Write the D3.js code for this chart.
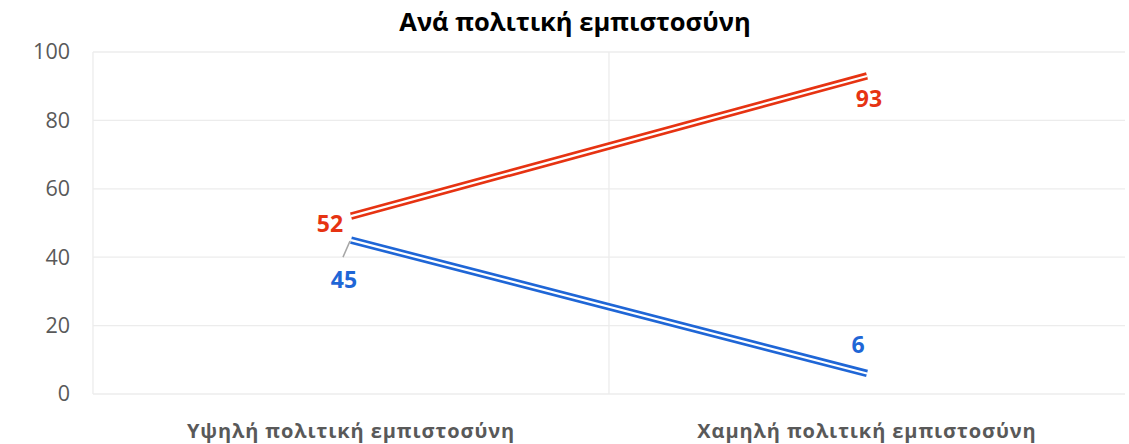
<!DOCTYPE html>
<html><head><meta charset="utf-8">
<script src="https://cdn.jsdelivr.net/npm/d3@7"></script>
<style>body{margin:0;background:#fff}svg{display:block}</style>
</head><body><svg id="c" width="1129" height="444"></svg>
<script>
const categories = ["Υψηλή πολιτική εμπιστοσύνη", "Χαμηλή πολιτική εμπιστοσύνη"];
const seriesRed = [52, 93];
const seriesBlue = [45, 6];
const yTicks = [0, 20, 40, 60, 80, 100];
const title = "Ανά πολιτική εμπιστοσύνη";

const svg = d3.select("#c");
const font = "'Open Sans', 'Noto Sans', sans-serif";
const m = {l: 93, r: 1125, t: 52, b: 394};
const x = d3.scaleBand().domain(categories).range([m.l, m.r]);
const y = d3.scaleLinear().domain([0, 100]).range([m.b, m.t]);
const cx = d => x(d) + x.bandwidth() / 2;

// grid
svg.append("g").selectAll("line").data(yTicks).join("line")
  .attr("x1", m.l).attr("x2", m.r).attr("y1", d => y(d)).attr("y2", d => y(d))
  .attr("stroke", "#ececec").attr("stroke-width", 1.3);
svg.append("g").selectAll("line").data([m.l, x(categories[1])]).join("line")
  .attr("x1", d => d).attr("x2", d => d).attr("y1", m.t).attr("y2", m.b)
  .attr("stroke", "#ececec").attr("stroke-width", 1.3);

// y axis labels
const yAxis = d3.axisLeft(y).tickValues(yTicks).tickSize(0).tickPadding(23);
const ga = svg.append("g").attr("transform", `translate(${m.l},0)`).call(yAxis);
ga.select(".domain").remove();
ga.selectAll("text").attr("font-family", font).attr("font-size", 21.5).attr("fill", "#595959");

// x labels
svg.append("g").selectAll("text").data(categories).join("text")
  .attr("x", d => cx(d)).attr("y", 438).attr("text-anchor", "middle")
  .attr("font-family", font).attr("font-size", 20).attr("font-weight", "bold")
  .attr("fill", "#595959").attr("letter-spacing", 0.9).text(d => d);

// title
svg.append("text").attr("x", 575).attr("y", 31).attr("text-anchor", "middle")
  .attr("font-family", font).attr("font-size", 25.5).attr("font-weight", "bold")
  .attr("fill", "#000").text(title);

const line = d3.line().x((d, i) => cx(categories[i])).y(d => y(d));
function dbl(data, color) {
  svg.append("path").attr("d", line(data)).attr("fill", "none")
    .attr("stroke", color).attr("stroke-width", 7.5);
  svg.append("path").attr("d", line(data)).attr("fill", "none")
    .attr("stroke", "#fff").attr("stroke-width", 2.2);
}
const red = "#E63312", blue = "#1F66D6";
dbl(seriesRed, red);
dbl(seriesBlue, blue);

// leader line for 45
svg.append("line").attr("x1", cx(categories[0]) - 8).attr("y1", y(seriesBlue[0]) + 17)
  .attr("x2", cx(categories[0]) - 1).attr("y2", y(seriesBlue[0]) + 1)
  .attr("stroke", "#a6a6a6").attr("stroke-width", 1.5);

const lbl = (t, xx, yy, color) => svg.append("text").attr("x", xx).attr("y", yy)
  .attr("text-anchor", "middle").attr("font-family", font).attr("font-size", 23)
  .attr("font-weight", "bold").attr("fill", color).text(t);
lbl(seriesRed[0], cx(categories[0]) - 21, y(seriesRed[0]) + 16, red);
lbl(seriesRed[1], cx(categories[1]) + 2, y(seriesRed[1]) + 31, red);
lbl(seriesBlue[0], cx(categories[0]) - 7, y(seriesBlue[0]) + 48, blue);
lbl(seriesBlue[1], cx(categories[1]) - 9, y(seriesBlue[1]) - 20, blue);
</script></body></html>
